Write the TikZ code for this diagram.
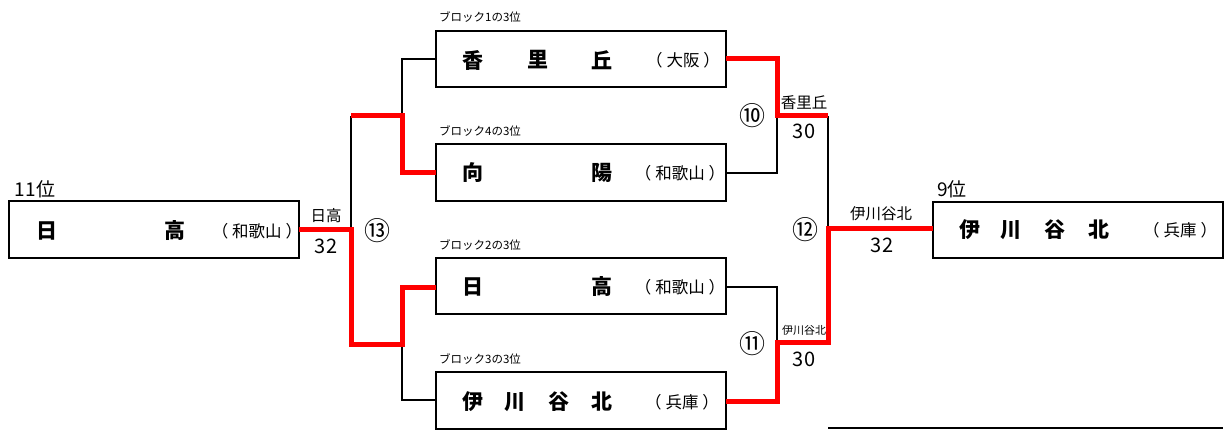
\documentclass[tikz,border=0pt]{standalone}
\usepackage{fontspec}
\setmainfont{Noto Sans CJK JP}
\newfontfamily\jp{Noto Sans CJK JP}
\newcommand{\pk}{\hspace{4pt}}
\begin{document}
\begin{tikzpicture}[x=1pt,y=-1pt,
  teambox/.style={draw=black,line width=2pt,minimum width=290pt,inner sep=0pt,outer sep=0pt},
  nm/.style={inner sep=0pt,font=\jp\bfseries\fontsize{21}{21}\selectfont},
  pref/.style={inner sep=0pt,font=\jp\fontsize{16.5}{17}\selectfont},
  blk/.style={inner sep=0pt,font=\jp\fontsize{11.5}{12}\selectfont},
  rank/.style={inner sep=0pt,font=\jp\fontsize{19}{20}\selectfont},
  win/.style={inner sep=0pt,font=\jp\fontsize{15.5}{16}\selectfont},
  winsm/.style={inner sep=0pt,font=\jp\fontsize{11}{12}\selectfont},
  score/.style={inner sep=0pt,font=\jp\fontsize{20}{20}\selectfont},
  circ/.style={inner sep=0pt,font=\jp\fontsize{26}{26}\selectfont},
  bline/.style={draw=black,line width=2pt},
  rline/.style={draw=red,line width=5pt}]
\useasboundingbox (0,0) rectangle (1225,430);
% boxes
\node[teambox,minimum height=57pt] (L) at (154,229.5) {};
\node[teambox,minimum height=56pt] (A) at (581,59) {};
\node[teambox,minimum height=57pt] (B) at (581,172.5) {};
\node[teambox,minimum height=56pt] (C) at (581,286) {};
\node[teambox,minimum height=57pt] (D) at (581,400.5) {};
\node[teambox,minimum height=56pt] (R) at (1078,230) {};
% names
\node[nm] (l1) at (47,231) {日};
\node[nm] (l2) at (175,231) {高};
\node[pref] (lp) at (257,231) {（\pk 和歌山\pk ）};
\node[nm] (a1) at (473,60) {香};
\node[nm] (a2) at (538,60) {里};
\node[nm] (a3) at (602,60) {丘};
\node[pref] (ap) at (683,60) {（\pk 大阪\pk ）};
\node[nm] (b1) at (473,173) {向};
\node[nm] (b2) at (602,173) {陽};
\node[pref] (bp) at (680,173) {（\pk 和歌山\pk ）};
\node[nm] (c1) at (473,287) {日};
\node[nm] (c2) at (602,287) {高};
\node[pref] (cp) at (680,287) {（\pk 和歌山\pk ）};
\node[nm] (d1) at (473,402) {伊};
\node[nm] (d2) at (515,402) {川};
\node[nm] (d3) at (559,402) {谷};
\node[nm] (d4) at (602,402) {北};
\node[pref] (dp) at (682,402) {（\pk 兵庫\pk ）};
\node[nm] (r1) at (970,230) {伊};
\node[nm] (r2) at (1011,230) {川};
\node[nm] (r3) at (1055,230) {谷};
\node[nm] (r4) at (1099,230) {北};
\node[pref] (rp) at (1180,230) {（\pk 兵庫\pk ）};
% labels
\node[rank] (rk11) at (35,189) {11位};
\node[rank] (rk9) at (952,189) {9位};
\node[blk] (bk1) at (480,17) {ブロック1の3位};
\node[blk] (bk4) at (480,131) {ブロック4の3位};
\node[blk] (bk2) at (480,245) {ブロック2の3位};
\node[blk] (bk3) at (480,359) {ブロック3の3位};
\node[win] (w13) at (326,216) {日高};
\node[score] (s13) at (326,246) {32};
\node[circ] (m13) at (377,231) {⑬};
\node[circ] (m10) at (752,116) {⑩};
\node[win] (w10) at (804,103) {香里丘};
\node[score] (s10) at (804,131) {30};
\node[circ] (m11) at (752,344) {⑪};
\node[winsm] (w11) at (804,330) {伊川谷北};
\node[score] (s11) at (804,359) {30};
\node[circ] (m12) at (805,230) {⑫};
\node[win] (w12) at (881,214) {伊川谷北};
\node[score] (s12) at (882,245) {32};
% junction coordinates
\coordinate (j1a) at (402,59);
\coordinate (j1) at (402,116);
\coordinate (j1b) at (402,173);
\coordinate (j2a) at (402,287);
\coordinate (j2) at (402,344);
\coordinate (j2b) at (402,400);
\coordinate (k1) at (351,116);
\coordinate (k0) at (351,230);
\coordinate (k2) at (351,344);
\coordinate (p1a) at (777,59);
\coordinate (p1) at (777,116);
\coordinate (p1b) at (777,173);
\coordinate (p2a) at (777,287);
\coordinate (p2) at (777,342);
\coordinate (p2b) at (777,401);
\coordinate (q1) at (828,116);
\coordinate (q0) at (828,229);
\coordinate (q2) at (828,342);
\coordinate (bl1) at (828,428);
\coordinate (bl2) at (1223,428);
% black connectors
\draw[bline] (A.west |- j1a) -- (j1a) -- (j1);
\draw[bline] (k1) -- (k0);
\draw[bline] (D.west |- j2b) -- (j2b) -- (j2);
\draw[bline] (B.east |- p1b) -- (p1b) -- (p1);
\draw[bline] (C.east |- p2a) -- (p2a) -- (p2);
\draw[bline] (q1) -- (q0);
\draw[bline] (bl1) -- (bl2);
% red connectors
\draw[rline] (L.east |- k0) -- (k0) -- (k2) -- (j2) -- (j2a) -- (C.west |- j2a);
\draw[rline] (k1) -- (j1) -- (j1b) -- (B.west |- j1b);
\draw[rline] (A.east |- p1a) -- (p1a) -- (p1) -- (q1);
\draw[rline] (D.east |- p2b) -- (p2b) -- (p2) -- (q2) -- (q0) -- (R.west |- q0);
\end{tikzpicture}
\end{document}
